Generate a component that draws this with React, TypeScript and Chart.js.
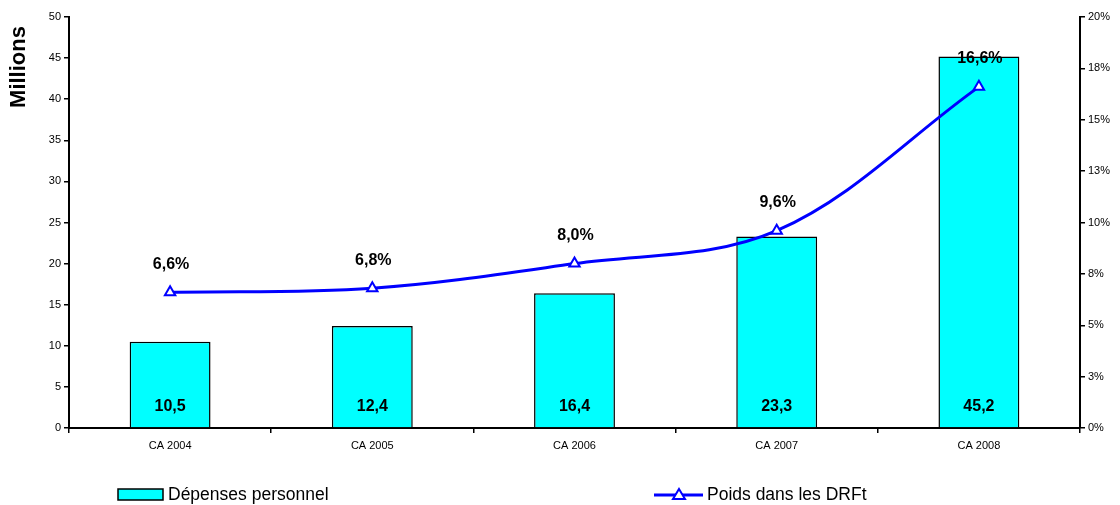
import React, { useEffect, useRef } from "react";
import { Chart, registerables } from "chart.js";

Chart.register(...registerables);

const categories = ["CA 2004", "CA 2005", "CA 2006", "CA 2007", "CA 2008"];
const depensesPersonnel = [10.5, 12.4, 16.4, 23.3, 45.2];
const poidsDRFt = [6.6, 6.8, 8.0, 9.6, 16.6];
const leftTicks = [0, 5, 10, 15, 20, 25, 30, 35, 40, 45, 50];
const rightTicks = [0, 2.5, 5, 7.5, 10, 12.5, 15, 17.5, 20];
const legendLabels = ["Dépenses personnel", "Poids dans les DRFt"];
const leftTitle = "Millions";

const FONT = "Arial, 'Liberation Sans', sans-serif";
const fmt = (v: number) => v.toFixed(1).replace(".", ",");

const labelsPlugin = {
  id: "valueLabels",
  afterDatasetsDraw(chart: any) {
    const ctx = chart.ctx;
    ctx.save();
    ctx.font = `bold 16px ${FONT}`;
    ctx.fillStyle = "#000";
    ctx.textAlign = "center";
    ctx.textBaseline = "middle";
    const base = chart.scales.y.getPixelForValue(0);
    chart.getDatasetMeta(1).data.forEach((el: any, i: number) => {
      ctx.fillText(fmt(depensesPersonnel[i]), el.x, base - 21);
    });
    chart.getDatasetMeta(0).data.forEach((el: any, i: number) => {
      ctx.fillText(fmt(poidsDRFt[i]) + "%", el.x + 1, el.y - 28);
    });
    ctx.restore();
  },
  afterDraw(chart: any) {
    const ctx = chart.ctx;
    ctx.save();
    // axis title
    ctx.save();
    ctx.translate(19, 67);
    ctx.rotate(-Math.PI / 2);
    ctx.font = `bold 22px ${FONT}`;
    ctx.fillStyle = "#000";
    ctx.textAlign = "center";
    ctx.textBaseline = "middle";
    ctx.fillText(leftTitle, 0, 0);
    ctx.restore();
    // legend
    const y = 495;
    ctx.fillStyle = "#00FFFF";
    ctx.fillRect(118, 489, 45, 11);
    ctx.strokeStyle = "#000";
    ctx.lineWidth = 1.5;
    ctx.strokeRect(118, 489, 45, 11);
    ctx.font = `17.5px ${FONT}`;
    ctx.fillStyle = "#000";
    ctx.textAlign = "left";
    ctx.textBaseline = "middle";
    ctx.fillText(legendLabels[0], 168, y);
    ctx.strokeStyle = "#0000FF";
    ctx.lineWidth = 3;
    ctx.beginPath();
    ctx.moveTo(654, y);
    ctx.lineTo(703, y);
    ctx.stroke();
    ctx.lineWidth = 2;
    ctx.fillStyle = "#fff";
    ctx.beginPath();
    ctx.moveTo(679, y - 6);
    ctx.lineTo(685, y + 4);
    ctx.lineTo(673, y + 4);
    ctx.closePath();
    ctx.fill();
    ctx.stroke();
    ctx.fillStyle = "#000";
    ctx.fillText(legendLabels[1], 707, y);
    ctx.restore();
  },
};

export default function App() {
  const ref = useRef<HTMLCanvasElement | null>(null);
  useEffect(() => {
    if (!ref.current) return;
    const chart = new Chart(ref.current, {
      data: {
        labels: categories,
        datasets: [
          {
            type: "line",
            label: legendLabels[1],
            data: poidsDRFt,
            yAxisID: "y1",
            borderColor: "#0000FF",
            borderWidth: 3,
            tension: 0.35,
            pointStyle: "triangle",
            pointRadius: 6,
            pointBackgroundColor: "#fff",
            pointBorderColor: "#0000FF",
            pointBorderWidth: 2,
            order: 0,
          } as any,
          {
            type: "bar",
            label: legendLabels[0],
            data: depensesPersonnel,
            yAxisID: "y",
            backgroundColor: "#00FFFF",
            borderColor: "#000",
            borderWidth: 1.5,
            barPercentage: 0.4,
            categoryPercentage: 1,
            order: 1,
          } as any,
        ],
      },
      options: {
        animation: false,
        responsive: false,
        layout: { padding: { top: 17, left: 0, right: 0, bottom: 0 } },
        plugins: { legend: { display: false }, tooltip: { enabled: false } },
        scales: {
          x: {
            offset: true,
            grid: {
              display: true,
              offset: true,
              drawOnChartArea: false,
              drawTicks: true,
              tickLength: 5,
              color: "#000",
              lineWidth: 1.5,
            },
            border: { display: true, color: "#000", width: 2 },
            ticks: {
              color: "#000",
              font: { family: FONT, size: 11 },
              padding: 6,
            },
            afterFit(scale: any) {
              scale.height = 77;
            },
          },
          y: {
            position: "left",
            min: 0,
            max: 50,
            afterBuildTicks(scale: any) {
              scale.ticks = leftTicks.map((v) => ({ value: v }));
            },
            grid: {
              display: true,
              drawOnChartArea: false,
              drawTicks: true,
              tickLength: 5,
              color: "#000",
              lineWidth: 1.5,
            },
            border: { display: true, color: "#000", width: 2 },
            ticks: {
              color: "#000",
              font: { family: FONT, size: 11 },
              padding: 3,
            },
            afterFit(scale: any) {
              scale.width = 69;
            },
          },
          y1: {
            position: "right",
            min: 0,
            max: 20,
            afterBuildTicks(scale: any) {
              scale.ticks = rightTicks.map((v) => ({ value: v }));
            },
            grid: {
              display: true,
              drawOnChartArea: false,
              drawTicks: true,
              tickLength: 5,
              color: "#000",
              lineWidth: 1.5,
            },
            border: { display: true, color: "#000", width: 2 },
            ticks: {
              color: "#000",
              font: { family: FONT, size: 11 },
              padding: 3,
              callback: (v: any) => Math.round(Number(v)) + "%",
            },
            afterFit(scale: any) {
              scale.width = 40;
            },
          },
        },
      },
      plugins: [labelsPlugin],
    });
    return () => chart.destroy();
  }, []);
  return (
    <div style={{ position: "fixed", left: 0, top: 0, width: 1120, height: 505, background: "#fff" }}>
      <canvas ref={ref} width={1120} height={505} style={{ display: "block" }} />
    </div>
  );
}
